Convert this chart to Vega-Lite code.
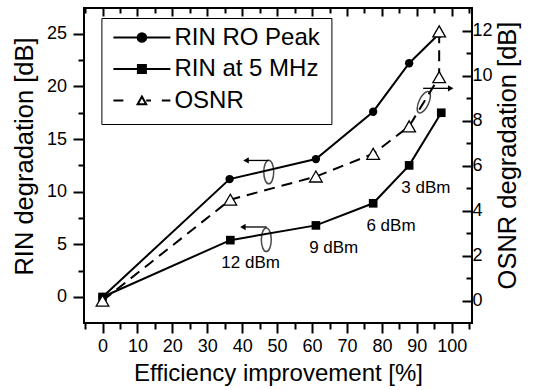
{
  "$schema": "https://vega.github.io/schema/vega-lite/v6.json",
  "width": 388,
  "height": 315,
  "autosize": "none",
  "padding": {"left": 84, "top": 8, "right": 61, "bottom": 67},
  "config": {
    "font": "Liberation Sans",
    "view": {"stroke": "black", "strokeWidth": 2},
    "axis": {
      "domain": false,
      "grid": false,
      "tickColor": "black",
      "tickWidth": 2,
      "labelColor": "black",
      "titleColor": "black",
      "labelFont": "Liberation Sans",
      "titleFont": "Liberation Sans",
      "labelFontSize": 18,
      "titleFontSize": 24,
      "titleFontWeight": "normal"
    }
  },
  "datasets": {
    "series": [
      {"s": "RIN RO Peak", "x": 0, "y": 0, "o": 1},
      {"s": "RIN RO Peak", "x": 36.4, "y": 11.2, "o": 2},
      {"s": "RIN RO Peak", "x": 61.1, "y": 13.1, "o": 3},
      {"s": "RIN RO Peak", "x": 77.5, "y": 17.6, "o": 4},
      {"s": "RIN RO Peak", "x": 87.8, "y": 22.2, "o": 5},
      {"s": "RIN RO Peak", "x": 96.4, "y": 25.0, "o": 6},
      {"s": "RIN at 5 MHz", "x": 0, "y": 0, "o": 1},
      {"s": "RIN at 5 MHz", "x": 36.6, "y": 5.4, "o": 2},
      {"s": "RIN at 5 MHz", "x": 61.1, "y": 6.8, "o": 3},
      {"s": "RIN at 5 MHz", "x": 77.5, "y": 8.9, "o": 4},
      {"s": "RIN at 5 MHz", "x": 87.8, "y": 12.5, "o": 5},
      {"s": "RIN at 5 MHz", "x": 97.0, "y": 17.5, "o": 6},
      {"s": "OSNR", "x": 0, "y": 0, "o": 1},
      {"s": "OSNR", "x": 36.6, "y": 4.49, "o": 2},
      {"s": "OSNR", "x": 61.1, "y": 5.52, "o": 3},
      {"s": "OSNR", "x": 77.5, "y": 6.53, "o": 4},
      {"s": "OSNR", "x": 87.8, "y": 7.75, "o": 5},
      {"s": "OSNR", "x": 96.4, "y": 9.94, "o": 6},
      {"s": "OSNR", "x": 96.4, "y": 11.97, "o": 7}
    ],
    "notes": [
      {"t": "12 dBm", "x": 42.4, "y": 3.2},
      {"t": "9 dBm", "x": 66.2, "y": 4.62},
      {"t": "6 dBm", "x": 82.6, "y": 6.78},
      {"t": "3 dBm", "x": 92.6, "y": 10.36}
    ],
    "ellipsesL": [
      {"x": 47.6, "y": 11.87},
      {"x": 46.9, "y": 5.44}
    ],
    "arrowsL": [
      {"x": 41.1, "x2": 47.6, "y": 12.97},
      {"x": 40.2, "x2": 47.0, "y": 6.65}
    ],
    "ellipsesR": [
      {"x": 92.0, "y": 8.82}
    ],
    "arrowsR": [
      {"x": 91.8, "x2": 99.7, "y": 9.44}
    ]
  },
  "resolve": {
    "scale": {"y": "independent"},
    "axis": {"x": "independent", "y": "independent"}
  },
  "layer": [
    {
      "data": {"name": "series"},
      "transform": [{"filter": "datum.s === 'RIN RO Peak'"}],
      "mark": {"type": "line", "color": "black", "strokeWidth": 2,
        "point": {"shape": "circle", "filled": true, "fill": "black", "size": 70}},
      "encoding": {
        "x": {"field": "x", "type": "quantitative",
          "scale": {"domain": [-5.3, 105.8], "nice": false, "zero": false},
          "axis": {"orient": "bottom", "values": [0, 10, 20, 30, 40, 50, 60, 70, 80, 90, 100],
            "tickSize": 10, "labelPadding": 4, "title": "Efficiency improvement [%]", "titlePadding": 6}},
        "y": {"field": "y", "type": "quantitative",
          "scale": {"domain": [-2.47, 27.45], "nice": false, "zero": false},
          "axis": {"orient": "left", "values": [0, 5, 10, 15, 20, 25],
            "tickSize": 11, "labelPadding": 6.5, "title": "RIN degradation [dB]", "titleFontSize": 25.5,
            "titlePadding": 9, "titleY": 148}},
        "order": {"field": "o", "type": "quantitative"}
      }
    },
    {
      "data": {"name": "series"},
      "transform": [{"filter": "datum.s === 'RIN at 5 MHz'"}],
      "mark": {"type": "line", "color": "black", "strokeWidth": 2,
        "point": {"shape": "square", "filled": true, "fill": "black", "size": 75}},
      "encoding": {
        "x": {"field": "x", "type": "quantitative",
          "scale": {"domain": [-5.3, 105.8], "nice": false, "zero": false},
          "axis": {"orient": "bottom", "values": [-5, 5, 15, 25, 35, 45, 55, 65, 75, 85, 95, 105],
            "tickSize": 6, "labels": false, "title": null}},
        "y": {"field": "y", "type": "quantitative",
          "scale": {"domain": [-2.47, 27.45], "nice": false, "zero": false},
          "axis": {"orient": "left", "values": [-2.5, 2.5, 7.5, 12.5, 17.5, 22.5],
            "tickSize": 6, "labels": false, "title": null}},
        "order": {"field": "o", "type": "quantitative"}
      }
    },
    {
      "data": {"name": "series"},
      "transform": [{"filter": "datum.s === 'OSNR'"}],
      "mark": {"type": "line", "color": "black", "strokeWidth": 2, "strokeDash": [11, 7],
        "point": {"shape": "triangle-up", "filled": true, "fill": "white", "stroke": "black",
          "strokeWidth": 1.3, "size": 160}},
      "encoding": {
        "x": {"field": "x", "type": "quantitative",
          "scale": {"domain": [-5.3, 105.8], "nice": false, "zero": false},
          "axis": {"orient": "top", "values": [0, 10, 20, 30, 40, 50, 60, 70, 80, 90, 100],
            "tickSize": -8, "labels": false, "title": null}},
        "y": {"field": "y", "type": "quantitative",
          "scale": {"domain": [-0.99, 13.01], "nice": false, "zero": false},
          "axis": {"orient": "right", "values": [0, 2, 4, 6, 8, 10, 12],
            "tickSize": -10, "labelPadding": 10, "title": "OSNR degradation [dB]", "titleFontSize": 25.5,
            "titleAngle": 270, "titleBaseline": "top", "titlePadding": 3, "titleY": 147}},
        "order": {"field": "o", "type": "quantitative"}
      }
    },
    {
      "data": {"name": "ellipsesR"},
      "mark": {"type": "point", "shape": "M0,-1A0.42,1,0,1,1,0,1A0.42,1,0,1,1,0,-1Z",
        "filled": false, "stroke": "black", "strokeWidth": 1.5, "size": 540, "angle": 25},
      "encoding": {
        "x": {"field": "x", "type": "quantitative",
          "scale": {"domain": [-5.3, 105.8], "nice": false, "zero": false},
          "axis": {"orient": "top", "values": [-5, 5, 15, 25, 35, 45, 55, 65, 75, 85, 95, 105],
            "tickSize": -5, "labels": false, "title": null}},
        "y": {"field": "y", "type": "quantitative",
          "scale": {"domain": [-0.99, 13.01], "nice": false, "zero": false},
          "axis": {"orient": "right", "values": [1, 3, 5, 7, 9, 11],
            "tickSize": -6, "labels": false, "title": null}}
      }
    },
    {
      "data": {"name": "arrowsR"},
      "mark": {"type": "rule", "color": "black", "strokeWidth": 1.3},
      "encoding": {
        "x": {"field": "x", "type": "quantitative", "axis": null},
        "x2": {"field": "x2"},
        "y": {"field": "y", "type": "quantitative",
          "scale": {"domain": [-0.99, 13.01], "nice": false, "zero": false}, "axis": null}
      }
    },
    {
      "data": {"name": "arrowsR"},
      "mark": {"type": "point", "shape": "triangle-right", "filled": true, "fill": "black", "size": 40, "opacity": 1},
      "encoding": {
        "x": {"field": "x2", "type": "quantitative", "axis": null},
        "y": {"field": "y", "type": "quantitative",
          "scale": {"domain": [-0.99, 13.01], "nice": false, "zero": false}, "axis": null}
      }
    },
    {
      "data": {"name": "notes"},
      "mark": {"type": "text", "fontSize": 17, "font": "Liberation Sans", "color": "black",
        "align": "center", "baseline": "middle"},
      "encoding": {
        "x": {"field": "x", "type": "quantitative", "axis": null},
        "y": {"field": "y", "type": "quantitative",
          "scale": {"domain": [-2.47, 27.45], "nice": false, "zero": false}, "axis": null},
        "text": {"field": "t"}
      }
    },
    {
      "data": {"name": "ellipsesL"},
      "mark": {"type": "point", "shape": "M0,-1A0.42,1,0,1,1,0,1A0.42,1,0,1,1,0,-1Z",
        "filled": false, "stroke": "black", "strokeWidth": 1.5, "size": 560},
      "encoding": {
        "x": {"field": "x", "type": "quantitative", "axis": null},
        "y": {"field": "y", "type": "quantitative",
          "scale": {"domain": [-2.47, 27.45], "nice": false, "zero": false}, "axis": null}
      }
    },
    {
      "data": {"name": "arrowsL"},
      "mark": {"type": "rule", "color": "black", "strokeWidth": 1.3},
      "encoding": {
        "x": {"field": "x", "type": "quantitative", "axis": null},
        "x2": {"field": "x2"},
        "y": {"field": "y", "type": "quantitative",
          "scale": {"domain": [-2.47, 27.45], "nice": false, "zero": false}, "axis": null}
      }
    },
    {
      "data": {"name": "arrowsL"},
      "mark": {"type": "point", "shape": "triangle-left", "filled": true, "fill": "black", "size": 40, "opacity": 1},
      "encoding": {
        "x": {"field": "x", "type": "quantitative", "axis": null},
        "y": {"field": "y", "type": "quantitative",
          "scale": {"domain": [-2.47, 27.45], "nice": false, "zero": false}, "axis": null}
      }
    },
    {
      "data": {"name": "series"},
      "transform": [{"filter": "false"}],
      "mark": {"type": "point", "filled": true, "opacity": 1, "strokeWidth": 2},
      "encoding": {
        "shape": {"field": "s", "type": "nominal",
          "scale": {"domain": ["RIN RO Peak", "RIN at 5 MHz", "OSNR"],
            "range": [
              "M-1,0H1M0.15,0A0.15,0.15,0,1,1,-0.15,0A0.15,0.15,0,1,1,0.15,0Z",
              "M-1,0H1M-0.14,-0.14H0.14V0.14H-0.14Z",
              "M-1,0H-0.65M-0.15,0.13L0,-0.14L0.15,0.13ZM0.15,0H0.32M0.7,0H1"
            ]},
          "legend": {"orient": "none", "legendX": 17.4, "legendY": 10, "title": null,
            "padding": 11, "strokeColor": "black", "fillColor": "white",
            "clipHeight": 17, "rowPadding": 6.5, "labelFontSize": 24, "labelFont": "Liberation Sans",
            "labelColor": "black", "labelOffset": 3, "labelLimit": 300, "symbolSize": 3249,
            "symbolStrokeWidth": 2}},
        "fill": {"field": "s", "type": "nominal",
          "scale": {"domain": ["RIN RO Peak", "RIN at 5 MHz", "OSNR"],
            "range": ["black", "black", "white"]},
          "legend": {"orient": "none", "legendX": 17.4, "legendY": 10, "title": null,
            "padding": 11, "strokeColor": "black", "fillColor": "white",
            "clipHeight": 17, "rowPadding": 6.5, "labelFontSize": 24, "labelFont": "Liberation Sans",
            "labelColor": "black", "labelOffset": 3, "labelLimit": 300, "symbolSize": 3249,
            "symbolStrokeWidth": 2}},
        "stroke": {"field": "s", "type": "nominal",
          "scale": {"domain": ["RIN RO Peak", "RIN at 5 MHz", "OSNR"],
            "range": ["black", "black", "black"]},
          "legend": {"orient": "none", "legendX": 17.4, "legendY": 10, "title": null,
            "padding": 11, "strokeColor": "black", "fillColor": "white",
            "clipHeight": 17, "rowPadding": 6.5, "labelFontSize": 24, "labelFont": "Liberation Sans",
            "labelColor": "black", "labelOffset": 3, "labelLimit": 300, "symbolSize": 3249,
            "symbolStrokeWidth": 2}}
      }
    }
  ]
}
